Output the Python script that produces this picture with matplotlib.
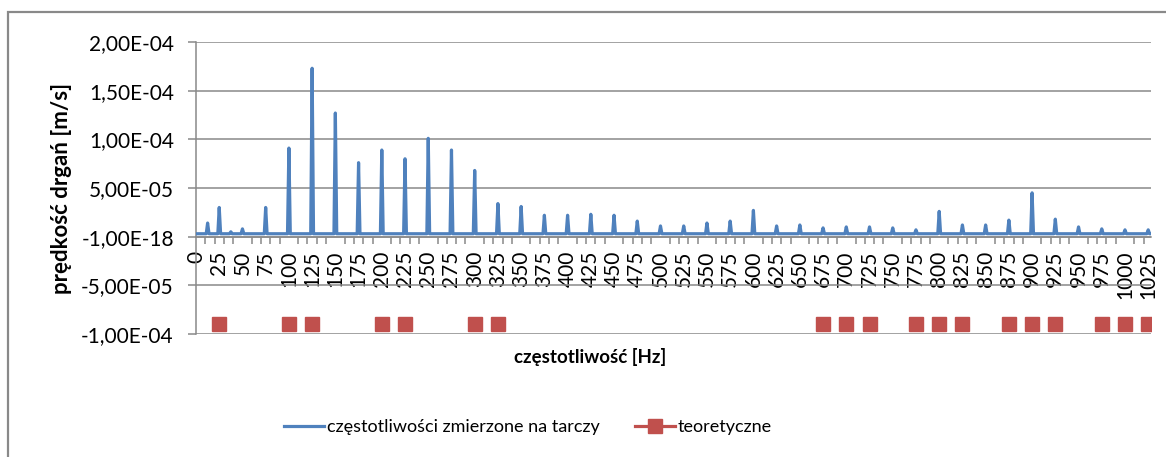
import matplotlib
matplotlib.use("Agg")
import matplotlib.pyplot as plt
from matplotlib.lines import Line2D
from matplotlib.patches import Rectangle
from matplotlib.ticker import MultipleLocator, FixedLocator, FixedFormatter

plt.rcParams['font.family'] = ['Lato', 'DejaVu Sans']

# measured spectrum: peak frequencies [Hz] and amplitudes [m/s]
peak_freq = [12.5, 25, 37.5, 50, 75, 100, 125, 150, 175, 200, 225, 250, 275,
             300, 325, 350, 375, 400, 425, 450, 475, 500, 525, 550, 575, 600,
             625, 650, 675, 700, 725, 750, 775, 800, 825, 850, 875, 900, 925,
             950, 975, 1000, 1025]
peak_amp = [1.4e-5, 3.0e-5, 0.5e-5, 0.8e-5, 3.0e-5, 9.1e-5, 17.3e-5, 12.7e-5,
            7.6e-5, 8.9e-5, 8.0e-5, 10.1e-5, 8.9e-5, 6.8e-5, 3.4e-5, 3.1e-5,
            2.2e-5, 2.2e-5, 2.3e-5, 2.2e-5, 1.6e-5, 1.1e-5, 1.1e-5, 1.4e-5,
            1.6e-5, 2.7e-5, 1.1e-5, 1.2e-5, 0.9e-5, 1.0e-5, 1.0e-5, 0.9e-5,
            0.7e-5, 2.6e-5, 1.2e-5, 1.2e-5, 1.7e-5, 4.5e-5, 1.8e-5, 1.0e-5,
            0.8e-5, 0.7e-5, 0.7e-5]
noise_floor = 3e-6
spike_halfwidth = 1.5

# theoretical frequencies
theo_freq = [25, 100, 125, 200, 225, 300, 325, 675, 700, 725, 775, 800, 825,
             875, 900, 925, 975, 1000, 1025]
theo_level = -9e-5

y_ticks = [-1e-4, -5e-5, 0, 5e-5, 1e-4, 1.5e-4, 2e-4]
y_tick_labels = ["-1,00E-04", "-5,00E-05", "-1,00E-18", "5,00E-05",
                 "1,00E-04", "1,50E-04", "2,00E-04"]
x_tick_labels = [str(f) for f in range(0, 1026, 25)]

# build the line: flat floor with a narrow spike at every peak
xs = [0]
ys = [noise_floor]
for f, a in zip(peak_freq, peak_amp):
    xs += [f - spike_halfwidth, f, f + spike_halfwidth]
    ys += [noise_floor, a, noise_floor]
xs.append(1027)
ys.append(noise_floor)

blue = "#4F81BD"
red = "#C0504D"
grey = "#898989"

fig = plt.figure(figsize=(11.66, 4.57), dpi=100)
fig.patches.append(Rectangle((8 / 1166, -0.1), 1.2, 1.1 - 12 / 457,
                             transform=fig.transFigure, fill=False,
                             edgecolor=grey, lw=1.6))

ax = fig.add_axes([196 / 1166, 1 - 334 / 457, 955 / 1166, 292 / 457])
ax.plot(xs, ys, color=blue, lw=2.3, solid_joinstyle='round', zorder=3)
ax.plot(theo_freq, [theo_level] * len(theo_freq), ls='none', marker='s',
        ms=10, color=red, zorder=4)

ax.set_xlim(0, 1028)
ax.set_ylim(-1e-4, 2e-4)

ax.yaxis.set_major_locator(FixedLocator(y_ticks))
ax.yaxis.set_major_formatter(FixedFormatter(y_tick_labels))
ax.grid(axis='y', color=grey, lw=1.1)
ax.set_axisbelow(True)

ax.xaxis.set_major_locator(FixedLocator(list(range(0, 1026, 25))))
ax.xaxis.set_major_formatter(FixedFormatter(x_tick_labels))
ax.xaxis.set_minor_locator(MultipleLocator(10))

for side in ['top', 'right']:
    ax.spines[side].set_visible(False)
ax.spines['bottom'].set_position(('data', 0))
ax.spines['bottom'].set_color(grey)
ax.spines['left'].set_color(grey)
ax.spines['bottom'].set_linewidth(1.1)
ax.spines['left'].set_linewidth(1.1)

ax.tick_params(axis='y', direction='out', length=6, width=1.1, color=grey,
               pad=10, labelsize=15)
ax.tick_params(axis='x', which='major', length=0, pad=10, labelsize=15,
               labelrotation=90)
ax.tick_params(axis='x', which='minor', direction='out', length=5,
               width=1.1, color=grey)

fig.text(62 / 1166, 1 - 188 / 457, "prędkość drgań [m/s]", rotation=90,
         ha='center', va='center', fontsize=16, fontweight='bold')
fig.text(590 / 1166, 1 - 357 / 457, "częstotliwość [Hz]", ha='center',
         va='center', fontsize=13.5, fontweight='bold')

handles = [Line2D([], [], color=blue, lw=2.3),
           Line2D([], [], color=red, lw=2.3, marker='s', ms=10)]
fig.legend(handles, ["częstotliwości zmierzone na tarczy", "teoretyczne"],
           loc='center', bbox_to_anchor=(528 / 1166, 1 - 427 / 457), ncol=2,
           frameon=False, fontsize=13, handlelength=2.2, handletextpad=0.15,
           columnspacing=2.0)

fig.savefig("out.png", dpi=100)
